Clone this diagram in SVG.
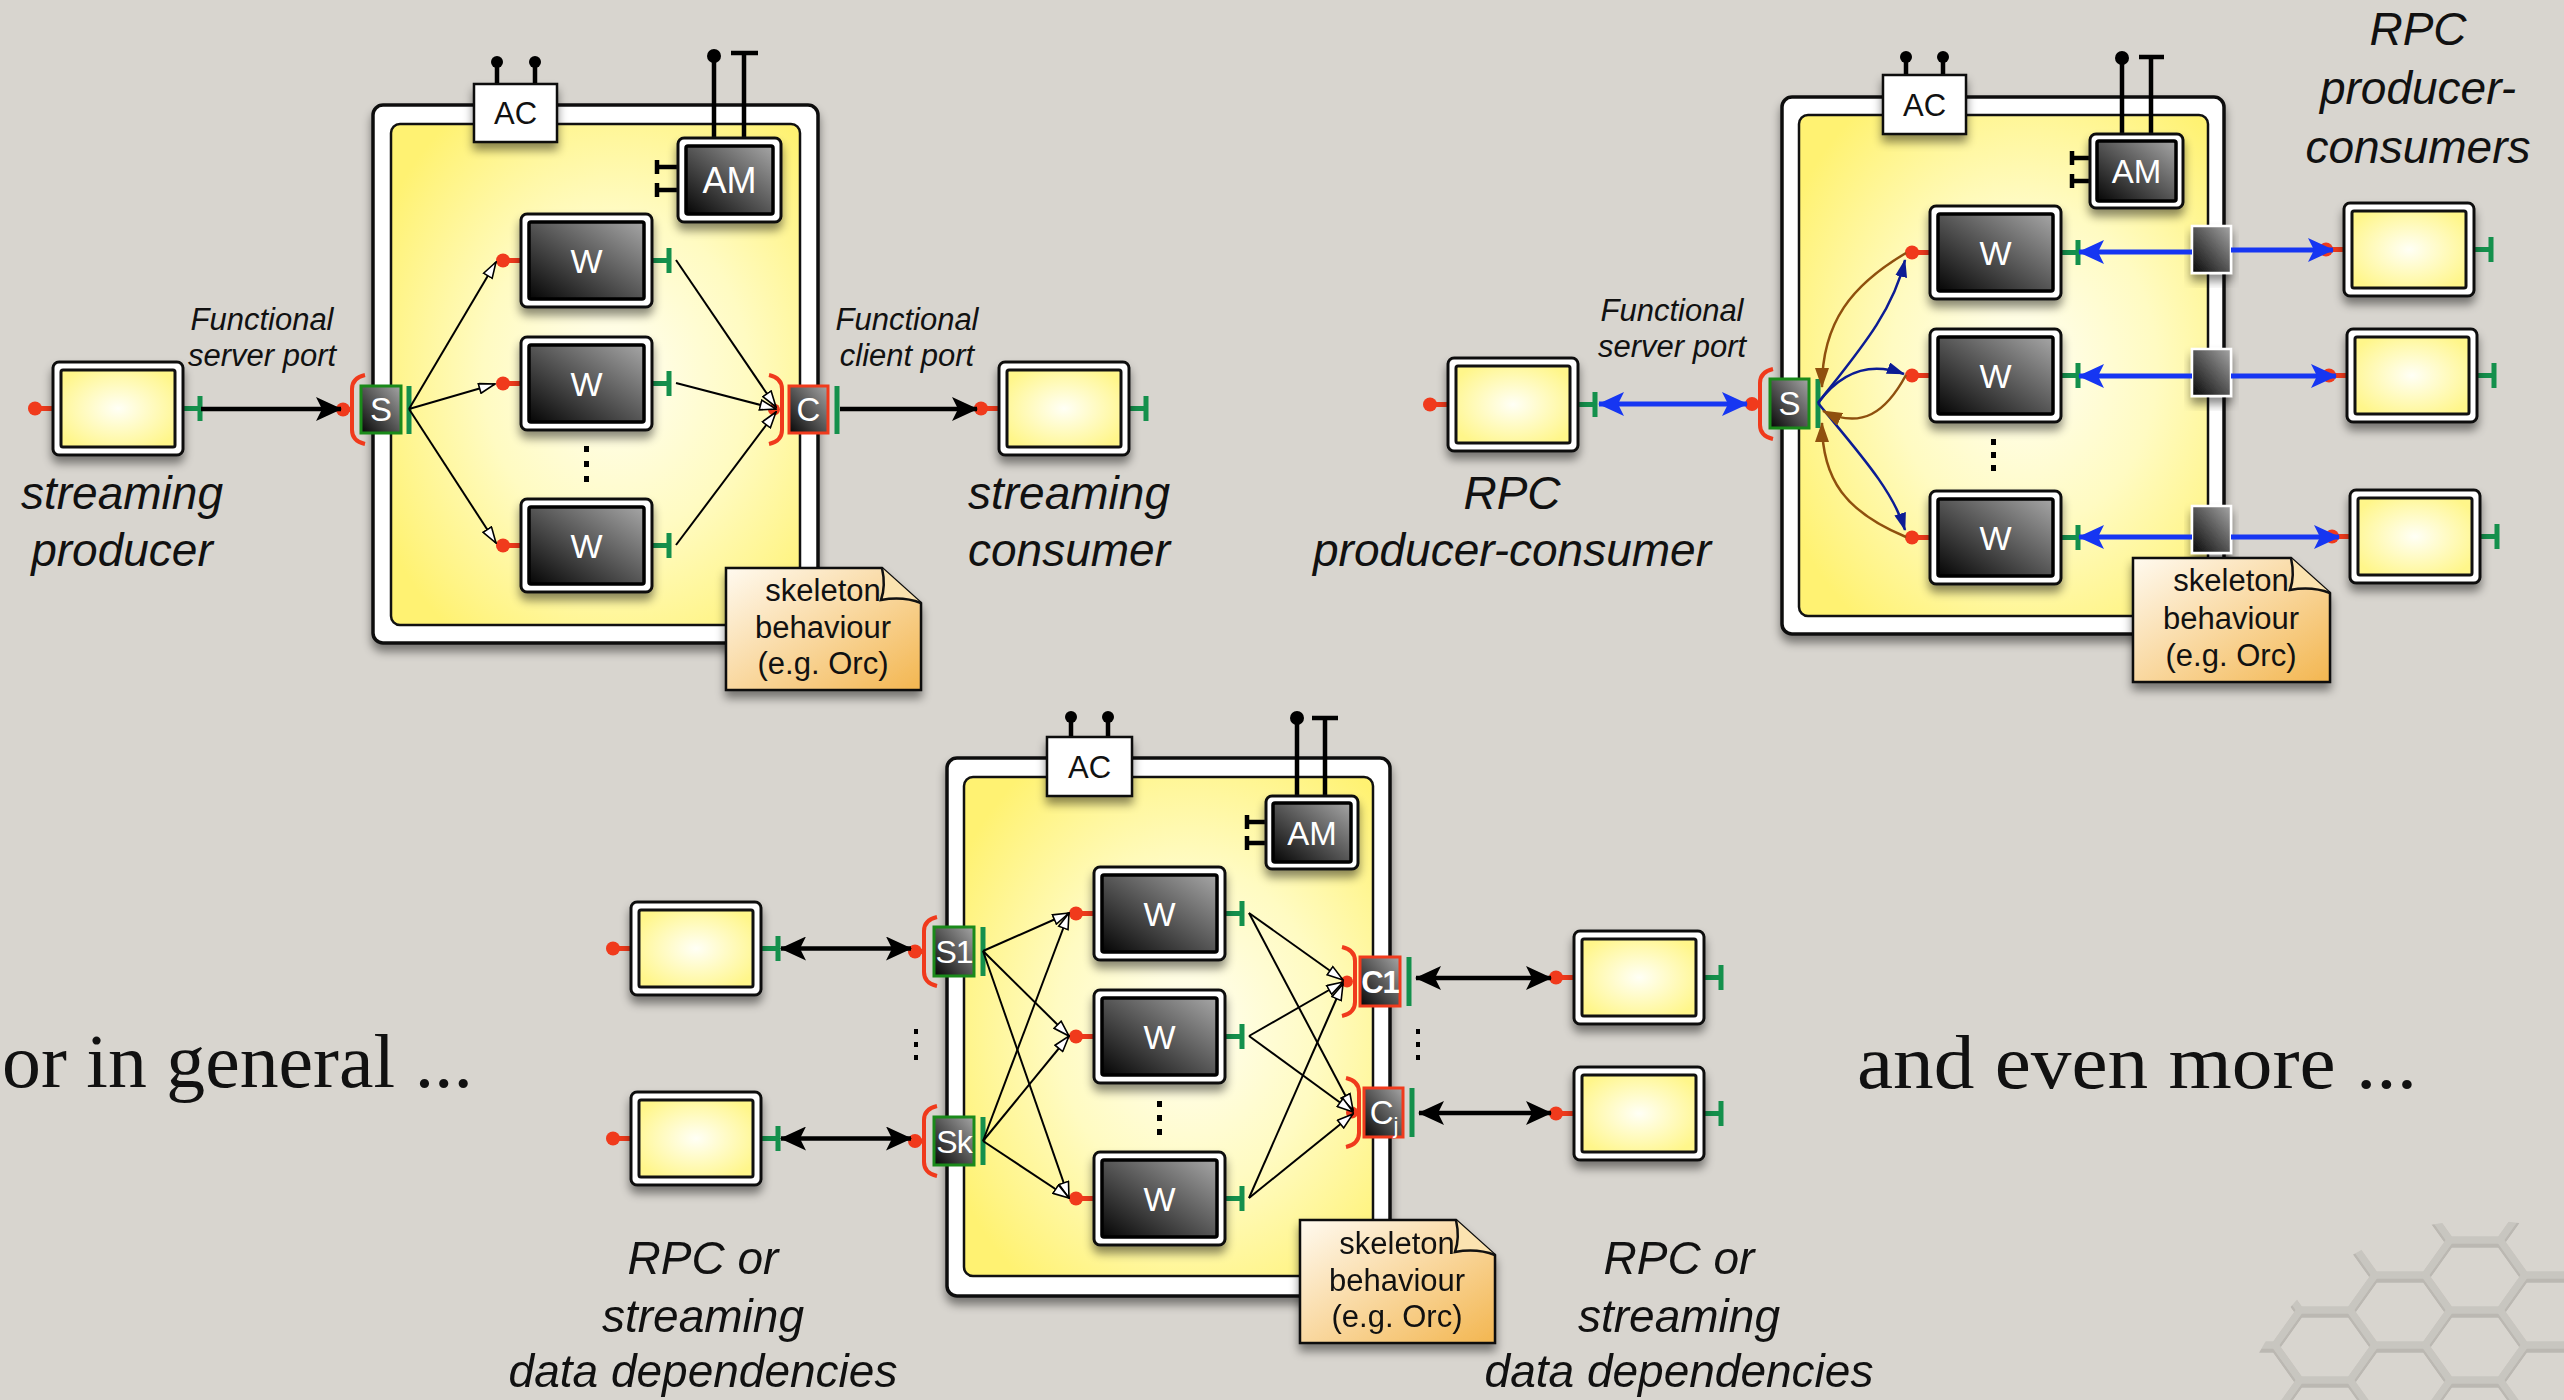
<svg xmlns="http://www.w3.org/2000/svg" width="2564" height="1400" viewBox="0 0 2564 1400">
<defs>
<style>
.it{font-family:"Liberation Sans",Arial,Helvetica,sans-serif;font-style:italic;fill:#111;text-anchor:middle}
.big{font-size:46px}
.sm{font-size:31px}
.serif{font-family:"Liberation Serif","Times New Roman",serif;font-size:76px;fill:#111}
.outer{fill:#fff;stroke:#111;stroke-width:3.5}
.inner{fill:url(#gCont);stroke:#111;stroke-width:2.5}
.bo{fill:#fff;stroke:#111;stroke-width:3}
.bi{fill:url(#gBox);stroke:#111;stroke-width:3}
.wi{fill:url(#gDark);stroke:#000;stroke-width:3.5}
.wt{font-family:"Liberation Sans",Arial,sans-serif;font-size:34px;fill:#fff;text-anchor:middle}
.pt{font-family:"Liberation Sans",Arial,sans-serif;font-size:33px;fill:#fff;text-anchor:middle}
.rs{stroke:#f03a1c;stroke-width:5}
.rb{fill:#f03a1c}
.br{fill:none;stroke:#f03a1c;stroke-width:4}
.gs{stroke:#14904c;stroke-width:5;fill:none}
.ps{fill:url(#gDark);stroke:#1a8a1a;stroke-width:3}
.pc{fill:url(#gDark);stroke:#f03a1c;stroke-width:3}
.thin{fill:none;stroke:#000;stroke-width:2;marker-end:url(#mo)}
.thick{fill:none;stroke:#000;stroke-width:4.5;marker-end:url(#mb)}
.dbl{marker-start:url(#mb)}
.blue{fill:none;stroke:#1636f2;stroke-width:5;marker-end:url(#mbl)}
.dblb{marker-start:url(#mbl)}
.navy{fill:none;stroke:#0c1c94;stroke-width:2.5;marker-end:url(#mn)}
.brown{fill:none;stroke:#8f500e;stroke-width:2.5;marker-end:url(#mbr)}
.pin{stroke:#000;stroke-width:4.5;fill:none}
.ac{fill:#fff;stroke:#111;stroke-width:2.5}
.act{font-family:"Liberation Sans",Arial,sans-serif;font-size:31px;fill:#111;text-anchor:middle}
.amt{font-family:"Liberation Sans",Arial,sans-serif;font-size:36px;fill:#fff;text-anchor:middle}
.note{fill:url(#gNote);stroke:#111;stroke-width:2.5}
.nt{font-family:"Liberation Sans",Arial,sans-serif;font-size:31px;fill:#111;text-anchor:middle}
.dot{fill:#000}
.sq{fill:url(#gDark);stroke:#fff;stroke-width:2.5}
.sh{filter:url(#sh)}
.hex{fill:none;stroke:#c6c3bd;stroke-width:7}
</style>
<linearGradient id="gDark" x1="0" y1="1" x2="1" y2="0"><stop offset="0" stop-color="#050505"/><stop offset="1" stop-color="#a6a6a6"/></linearGradient>
<radialGradient id="gCont" cx="0.55" cy="0.5" r="0.65"><stop offset="0" stop-color="#fffef2"/><stop offset="0.5" stop-color="#fffbc2"/><stop offset="1" stop-color="#fff272"/></radialGradient>
<radialGradient id="gBox" cx="0.5" cy="0.5" r="0.6"><stop offset="0" stop-color="#fffff6"/><stop offset="1" stop-color="#fff68a"/></radialGradient>
<linearGradient id="gNote" x1="0" y1="0" x2="1" y2="1"><stop offset="0" stop-color="#fffaf0"/><stop offset="1" stop-color="#f3b650"/></linearGradient>
<filter id="sh" x="-20%" y="-20%" width="140%" height="150%"><feDropShadow dx="0" dy="7" stdDeviation="5" flood-color="#000" flood-opacity="0.45"/></filter>
<marker id="mo" viewBox="0 0 18 12" refX="17" refY="6" markerWidth="18" markerHeight="12" orient="auto" markerUnits="userSpaceOnUse"><path d="M1,1 L17,6 L1,11 Z" fill="#fff" stroke="#000" stroke-width="1.6"/></marker>
<marker id="mb" viewBox="0 0 26 24" refX="25" refY="12" markerWidth="26" markerHeight="24" orient="auto-start-reverse" markerUnits="userSpaceOnUse"><path d="M0,0 L26,12 L0,24 L6,12 Z" fill="#000"/></marker>
<marker id="mbl" viewBox="0 0 26 24" refX="25" refY="12" markerWidth="26" markerHeight="24" orient="auto-start-reverse" markerUnits="userSpaceOnUse"><path d="M0,0 L26,12 L0,24 L6,12 Z" fill="#1636f2"/></marker>
<marker id="mn" viewBox="0 0 18 12" refX="17" refY="6" markerWidth="18" markerHeight="12" orient="auto" markerUnits="userSpaceOnUse"><path d="M0,0 L18,6 L0,12 Z" fill="#0c1c94"/></marker>
<marker id="mbr" viewBox="0 0 20 14" refX="19" refY="7" markerWidth="20" markerHeight="14" orient="auto" markerUnits="userSpaceOnUse"><path d="M0,0 L20,7 L0,14 Z" fill="#8f500e"/></marker>
<g id="wshape">
<line class="rs" x1="-18" y1="46.5" x2="0" y2="46.5"/>
<circle class="rb" cx="-18" cy="46.5" r="7"/>
<path class="gs" d="M131,46.5 H148 M148,34 V59"/>
<rect class="bo sh" x="0" y="0" width="131" height="93" rx="6"/>
<rect class="wi" x="8" y="8" width="115" height="77" rx="2"/>
</g>
<g id="yshape">
<line class="rs" x1="-18" y1="46.5" x2="0" y2="46.5"/>
<circle class="rb" cx="-18" cy="46.5" r="7"/>
<path class="gs" d="M130,46.5 H147 M147,34 V59"/>
<rect class="bo sh" x="0" y="0" width="130" height="93" rx="6"/>
<rect class="bi" x="8" y="8" width="114" height="77" rx="2"/>
</g>
<path id="hx" d="M-50,0 L-25,-35 L25,-35 L50,0 L25,35 L-25,35 Z"/>
<clipPath id="hclip"><circle cx="2480" cy="1470" r="250"/></clipPath>
</defs>

<rect width="2564" height="1400" fill="#d8d5cf"/>

<g id="decor" clip-path="url(#hclip)" opacity="0.85">
<g class="hex" transform="translate(0,4)" style="stroke:#b6b3ad">
<use href="#hx" x="2250" y="1240"/><use href="#hx" x="2250" y="1310"/><use href="#hx" x="2250" y="1380"/>
<use href="#hx" x="2325" y="1205"/><use href="#hx" x="2325" y="1275"/><use href="#hx" x="2325" y="1345"/><use href="#hx" x="2325" y="1415"/>
<use href="#hx" x="2400" y="1240"/><use href="#hx" x="2400" y="1310"/><use href="#hx" x="2400" y="1380"/>
<use href="#hx" x="2475" y="1205"/><use href="#hx" x="2475" y="1275"/><use href="#hx" x="2475" y="1345"/><use href="#hx" x="2475" y="1415"/>
<use href="#hx" x="2550" y="1240"/><use href="#hx" x="2550" y="1310"/><use href="#hx" x="2550" y="1380"/>
</g>
<g class="hex">
<use href="#hx" x="2250" y="1240"/><use href="#hx" x="2250" y="1310"/><use href="#hx" x="2250" y="1380"/>
<use href="#hx" x="2325" y="1205"/><use href="#hx" x="2325" y="1275"/><use href="#hx" x="2325" y="1345"/><use href="#hx" x="2325" y="1415"/>
<use href="#hx" x="2400" y="1240"/><use href="#hx" x="2400" y="1310"/><use href="#hx" x="2400" y="1380"/>
<use href="#hx" x="2475" y="1205"/><use href="#hx" x="2475" y="1275"/><use href="#hx" x="2475" y="1345"/><use href="#hx" x="2475" y="1415"/>
<use href="#hx" x="2550" y="1240"/><use href="#hx" x="2550" y="1310"/><use href="#hx" x="2550" y="1380"/>
</g>
</g>

<!-- ================= TOP LEFT ================= -->
<g id="tl-skeleton">
<rect class="outer sh" x="373" y="105" width="445" height="538" rx="10"/>
<rect class="inner" x="391" y="124" width="409" height="501" rx="9"/>
</g>
<g id="tl-ac">
<path class="pin" d="M497,84 V64 M535,84 V64"/>
<circle cx="497" cy="62" r="6"/><circle cx="535" cy="62" r="6"/>
<rect class="ac sh" x="474" y="84" width="83" height="58"/>
<text class="act" x="515.5" y="124">AC</text>
</g>
<g id="tl-am">
<path class="pin" d="M714,138 V58 M744,138 V53 M731,53 H758 M678,167 H657 M657,160 V174 M678,190 H657 M657,183 V197"/>
<circle cx="714" cy="56" r="7"/>
<rect class="bo sh" x="678" y="138" width="103" height="84" rx="6"/>
<rect class="wi" x="686" y="146" width="87" height="68" rx="2"/>
<text class="amt" x="729.5" y="193">AM</text>
</g>
<g id="tl-w1" transform="translate(521,214)"><use href="#wshape"/><text class="wt" x="65.5" y="59">W</text></g>
<g id="tl-w2" transform="translate(521,337)"><use href="#wshape"/><text class="wt" x="65.5" y="59">W</text></g>
<g id="tl-w3" transform="translate(521,499)"><use href="#wshape"/><text class="wt" x="65.5" y="59">W</text></g>
<g id="tl-dots"><rect class="dot" x="584" y="446" width="5" height="6"/><rect class="dot" x="584" y="461" width="5" height="6"/><rect class="dot" x="584" y="476" width="5" height="6"/></g>
<g id="tl-s">
<line class="rs" x1="343" y1="409.5" x2="352" y2="409.5"/>
<circle class="rb" cx="343" cy="409.5" r="7"/>
<path class="br" d="M365,375 Q352,378 352,389 L352,430 Q352,441 365,444"/>
<rect class="ps" x="361" y="386" width="40" height="47"/>
<text class="pt" x="381" y="421">S</text>
<line class="gs" x1="409" y1="386" x2="409" y2="434"/>
</g>
<g id="tl-c">
<path class="br" d="M769,375 Q782,378 782,389 L782,430 Q782,441 769,444"/>
<circle class="rb" cx="774" cy="409.5" r="6"/>
<rect class="pc" x="789" y="386" width="39" height="47"/>
<text class="pt" x="808.5" y="421">C</text>
<line class="gs" x1="837" y1="386" x2="837" y2="434"/>
</g>
<g id="tl-producer" transform="translate(53,362)"><use href="#yshape"/></g>
<g id="tl-consumer" transform="translate(999,362)"><use href="#yshape"/></g>
<g id="tl-note">
<path class="note sh" d="M726,568 H882 L921,603 V690 H726 Z"/>
<path class="note" d="M882,568 Q886,586 881,600 Q903,596 921,603" style="fill:#fbe3b0"/>
<text class="nt" x="823" y="601">skeleton</text>
<text class="nt" x="823" y="638">behaviour</text>
<text class="nt" x="823" y="674">(e.g. Orc)</text>
</g>
<g id="tl-connectors">
<path class="thick" d="M201,409 L341,409"/>
<path class="thick" d="M840,409 L977,409"/>
<path class="thin" d="M409,409 L496,262"/>
<path class="thin" d="M409,409 L495,384"/>
<path class="thin" d="M409,409 L496,543"/>
<path class="thin" d="M676,260 L776,407"/>
<path class="thin" d="M676,383 L776,409"/>
<path class="thin" d="M676,545 L776,412"/>
</g>
<g id="tl-labels">
<text class="it sm" x="262" y="330">Functional</text>
<text class="it sm" x="262" y="366">server port</text>
<text class="it sm" x="907" y="330">Functional</text>
<text class="it sm" x="907" y="366">client port</text>
<text class="it big" x="122" y="509">streaming</text>
<text class="it big" x="122" y="566">producer</text>
<text class="it big" x="1069" y="509">streaming</text>
<text class="it big" x="1069" y="566">consumer</text>
</g>

<!-- ================= TOP RIGHT ================= -->
<g id="tr-skeleton">
<rect class="outer sh" x="1782" y="97" width="442" height="537" rx="10"/>
<rect class="inner" x="1799" y="115" width="409" height="501" rx="9"/>
</g>
<g id="tr-ac">
<path class="pin" d="M1906,75 V59 M1943,75 V59"/>
<circle cx="1906" cy="57" r="6"/><circle cx="1943" cy="57" r="6"/>
<rect class="ac sh" x="1883" y="75" width="83" height="59"/>
<text class="act" x="1924.5" y="116">AC</text>
</g>
<g id="tr-am">
<path class="pin" d="M2122,134 V60 M2151,134 V57 M2139,57 H2164 M2090,158 H2072 M2072,151 V165 M2090,181 H2072 M2072,174 V188"/>
<circle cx="2122" cy="58" r="7"/>
<rect class="bo sh" x="2090" y="134" width="93" height="74" rx="6"/>
<rect class="wi" x="2097" y="141" width="79" height="60" rx="2"/>
<text class="amt" x="2136.5" y="183" style="font-size:33px">AM</text>
</g>
<g id="tr-w1" transform="translate(1930,206)"><use href="#wshape"/><text class="wt" x="65.5" y="59">W</text></g>
<g id="tr-w2" transform="translate(1930,329)"><use href="#wshape"/><text class="wt" x="65.5" y="59">W</text></g>
<g id="tr-w3" transform="translate(1930,491)"><use href="#wshape"/><text class="wt" x="65.5" y="59">W</text></g>
<g id="tr-dots"><rect class="dot" x="1991" y="439" width="5" height="6"/><rect class="dot" x="1991" y="452" width="5" height="6"/><rect class="dot" x="1991" y="465" width="5" height="6"/></g>
<g id="tr-sq1"><rect class="sq sh" x="2192" y="226" width="39" height="47"/></g>
<g id="tr-sq2"><rect class="sq sh" x="2192" y="349" width="39" height="47"/></g>
<g id="tr-sq3"><rect class="sq sh" x="2192" y="506" width="39" height="47"/></g>
<g id="tr-s">
<line class="rs" x1="1752" y1="404" x2="1760" y2="404"/>
<circle class="rb" cx="1752" cy="404" r="7"/>
<path class="br" d="M1773,369 Q1760,372 1760,383 L1760,425 Q1760,436 1773,439"/>
<rect class="ps" x="1770" y="379" width="39" height="49"/>
<text class="pt" x="1789.5" y="415">S</text>
<line class="gs" x1="1818" y1="379" x2="1818" y2="428"/>
</g>
<g id="tr-producer" transform="translate(1448,358)"><use href="#yshape"/></g>
<g id="tr-c1" transform="translate(2344,203)"><use href="#yshape"/></g>
<g id="tr-c2" transform="translate(2347,329)"><use href="#yshape"/></g>
<g id="tr-c3" transform="translate(2350,490)"><use href="#yshape"/></g>
<g id="tr-note">
<path class="note sh" d="M2133,558 H2291 L2330,593 V682 H2133 Z"/>
<path class="note" d="M2291,558 Q2295,576 2290,590 Q2312,586 2330,593" style="fill:#fbe3b0"/>
<text class="nt" x="2231" y="591">skeleton</text>
<text class="nt" x="2231" y="629">behaviour</text>
<text class="nt" x="2231" y="666">(e.g. Orc)</text>
</g>
<g id="tr-connectors">
<path class="blue dblb" d="M1599,404 L1747,404"/>
<path class="blue" d="M2192,252 L2079,252"/>
<path class="blue" d="M2192,376 L2079,376"/>
<path class="blue" d="M2192,537 L2079,537"/>
<path class="blue" d="M2231,250 L2333,250"/>
<path class="blue" d="M2231,376 L2336,376"/>
<path class="blue" d="M2231,537 L2339,537"/>
<path class="navy" d="M1818,403 C1858,352 1893,312 1905,260"/>
<path class="navy" d="M1818,403 C1838,376 1866,360 1904,374"/>
<path class="navy" d="M1818,403 C1858,452 1893,490 1905,530"/>
<path class="brown" d="M1906,253 C1852,285 1822,322 1822,387"/>
<path class="brown" d="M1906,375 C1886,412 1862,430 1823,411"/>
<path class="brown" d="M1906,537 C1846,512 1822,480 1822,423"/>
</g>
<g id="tr-labels">
<text class="it sm" x="1672" y="321">Functional</text>
<text class="it sm" x="1672" y="357">server port</text>
<text class="it big" x="1512" y="509">RPC</text>
<text class="it big" x="1512" y="566">producer-consumer</text>
<text class="it big" x="2418" y="45">RPC</text>
<text class="it big" x="2418" y="104">producer-</text>
<text class="it big" x="2418" y="163">consumers</text>
</g>

<!-- ================= BOTTOM ================= -->
<g id="b-skeleton">
<rect class="outer sh" x="947" y="758" width="443" height="538" rx="10"/>
<rect class="inner" x="964" y="777" width="409" height="499" rx="9"/>
</g>
<g id="b-ac">
<path class="pin" d="M1071,737 V719 M1108,737 V719"/>
<circle cx="1071" cy="717" r="6"/><circle cx="1108" cy="717" r="6"/>
<rect class="ac sh" x="1047" y="737" width="85" height="59"/>
<text class="act" x="1089.5" y="778">AC</text>
</g>
<g id="b-am">
<path class="pin" d="M1297,796 V720 M1325,796 V718 M1312,718 H1338 M1266,822 H1247 M1247,815 V829 M1266,843 H1247 M1247,836 V850"/>
<circle cx="1297" cy="718" r="7"/>
<rect class="bo sh" x="1266" y="796" width="92" height="73" rx="6"/>
<rect class="wi" x="1273" y="803" width="78" height="59" rx="2"/>
<text class="amt" x="1312" y="845" style="font-size:33px">AM</text>
</g>
<g id="b-w1" transform="translate(1094,867)"><use href="#wshape"/><text class="wt" x="65.5" y="59">W</text></g>
<g id="b-w2" transform="translate(1094,990)"><use href="#wshape"/><text class="wt" x="65.5" y="59">W</text></g>
<g id="b-w3" transform="translate(1094,1152)"><use href="#wshape"/><text class="wt" x="65.5" y="59">W</text></g>
<g id="b-dots">
<rect class="dot" x="1157" y="1101" width="5" height="6"/><rect class="dot" x="1157" y="1115" width="5" height="6"/><rect class="dot" x="1157" y="1129" width="5" height="6"/>
<rect class="dot" x="914" y="1029" width="4" height="5"/><rect class="dot" x="914" y="1042" width="4" height="5"/><rect class="dot" x="914" y="1055" width="4" height="5"/>
<rect class="dot" x="1416" y="1029" width="4" height="5"/><rect class="dot" x="1416" y="1042" width="4" height="5"/><rect class="dot" x="1416" y="1055" width="4" height="5"/>
</g>
<g id="b-s1">
<line class="rs" x1="915" y1="951.5" x2="924" y2="951.5"/>
<circle class="rb" cx="915" cy="951.5" r="7"/>
<path class="br" d="M937,917 Q924,920 924,931 L924,972 Q924,983 937,986"/>
<rect class="ps" x="934" y="927" width="40" height="49"/>
<text class="pt" x="954" y="963" style="font-size:32px;letter-spacing:-1px">S1</text>
<line class="gs" x1="983" y1="927" x2="983" y2="976"/>
</g>
<g id="b-sk">
<line class="rs" x1="915" y1="1141" x2="924" y2="1141"/>
<circle class="rb" cx="915" cy="1141" r="7"/>
<path class="br" d="M937,1106 Q924,1109 924,1120 L924,1162 Q924,1173 937,1176"/>
<rect class="ps" x="934" y="1117" width="40" height="48"/>
<text class="pt" x="954" y="1153" style="font-size:32px;letter-spacing:-1px">Sk</text>
<line class="gs" x1="983" y1="1117" x2="983" y2="1165"/>
</g>
<g id="b-c1">
<path class="br" d="M1342,947 Q1355,950 1355,961 L1355,1002 Q1355,1013 1342,1016"/>
<circle class="rb" cx="1347" cy="981.5" r="6"/>
<rect class="pc" x="1360" y="957" width="40" height="49"/>
<text class="pt" x="1380" y="993" style="font-size:31px;font-weight:bold;letter-spacing:-1px">C1</text>
<line class="gs" x1="1409" y1="957" x2="1409" y2="1006"/>
</g>
<g id="b-cj">
<path class="br" d="M1346,1078 Q1359,1081 1359,1092 L1359,1133 Q1359,1144 1346,1147"/>
<circle class="rb" cx="1352" cy="1112.5" r="6"/>
<rect class="pc" x="1364" y="1088" width="39" height="49"/>
<text class="pt" x="1384" y="1124" style="font-size:33px">C<tspan font-size="22px" dy="9">j</tspan></text>
<line class="gs" x1="1412" y1="1088" x2="1412" y2="1137"/>
</g>
<g id="b-in1" transform="translate(631,902)"><use href="#yshape"/></g>
<g id="b-in2" transform="translate(631,1092)"><use href="#yshape"/></g>
<g id="b-out1" transform="translate(1574,931)"><use href="#yshape"/></g>
<g id="b-out2" transform="translate(1574,1067)"><use href="#yshape"/></g>
<g id="b-note">
<path class="note sh" d="M1300,1220 H1456 L1495,1255 V1343 H1300 Z"/>
<path class="note" d="M1456,1220 Q1460,1238 1455,1252 Q1477,1248 1495,1255" style="fill:#fbe3b0"/>
<text class="nt" x="1397" y="1254">skeleton</text>
<text class="nt" x="1397" y="1291">behaviour</text>
<text class="nt" x="1397" y="1327">(e.g. Orc)</text>
</g>
<g id="b-connectors">
<path class="thick dbl" d="M781,948.5 L911,948.5"/>
<path class="thick dbl" d="M781,1138.5 L911,1138.5"/>
<path class="thick dbl" d="M1416,978 L1551,978"/>
<path class="thick dbl" d="M1419,1113 L1551,1113"/>
<path class="thin" d="M983,951 L1069,913"/>
<path class="thin" d="M983,951 L1069,1036"/>
<path class="thin" d="M983,951 L1069,1198"/>
<path class="thin" d="M983,1141 L1069,913"/>
<path class="thin" d="M983,1141 L1069,1036"/>
<path class="thin" d="M983,1141 L1069,1198"/>
<path class="thin" d="M1249,913 L1343,980"/>
<path class="thin" d="M1249,913 L1353,1110"/>
<path class="thin" d="M1249,1036 L1343,982"/>
<path class="thin" d="M1249,1036 L1353,1112"/>
<path class="thin" d="M1249,1198 L1343,984"/>
<path class="thin" d="M1249,1198 L1353,1114"/>
</g>
<g id="b-labels">
<text class="it big" x="703" y="1274">RPC or</text>
<text class="it big" x="703" y="1332">streaming</text>
<text class="it big" x="703" y="1387">data dependencies</text>
<text class="it big" x="1679" y="1274">RPC or</text>
<text class="it big" x="1679" y="1332">streaming</text>
<text class="it big" x="1679" y="1387">data dependencies</text>
</g>

<g id="captions">
<text class="serif" x="2" y="1087" textLength="471" lengthAdjust="spacingAndGlyphs">or in general ...</text>
<text class="serif" x="1857" y="1088" textLength="560" lengthAdjust="spacingAndGlyphs">and even more ...</text>
</g>
</svg>
